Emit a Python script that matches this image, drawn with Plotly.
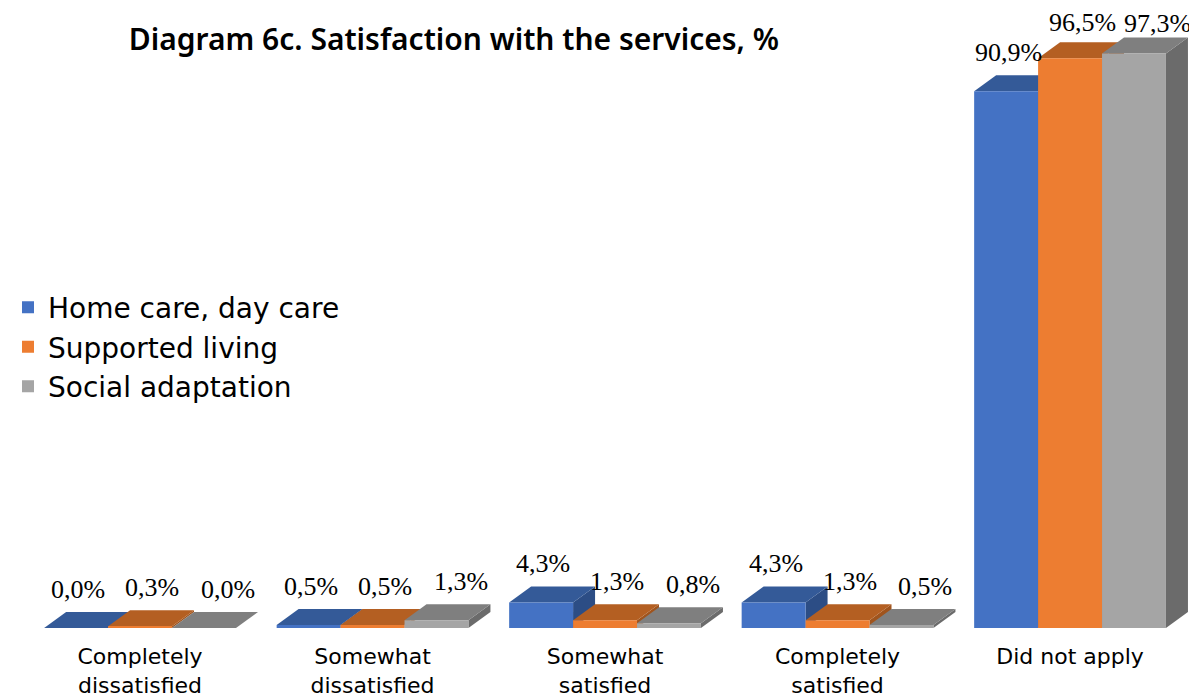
import plotly.graph_objects as go

# categories and series values (%)
categories = ["Completely<br>dissatisfied", "Somewhat<br>dissatisfied", "Somewhat<br>satisfied",
              "Completely<br>satisfied", "Did not apply"]
series_names = ["Home care, day care", "Supported living", "Social adaptation"]
home_care = [0.0, 0.5, 4.3, 4.3, 90.9]
supported_living = [0.3, 0.5, 1.3, 1.3, 96.5]
social_adaptation = [0.0, 1.3, 0.8, 0.5, 97.3]

# front / top / side face colours per series
front_colors = ["#4472C4", "#ED7D31", "#A5A5A5"]
top_colors = ["#345A98", "#B45F22", "#7F7F7F"]
side_colors = ["#2C4D85", "#A0541D", "#6B6B6B"]
label_xshift = [2, 12, 24]

bar_w = 0.275                # width of one bar in category units
depth_x = 22 / 232.5         # 3d depth offset, category units
depth_y = 16 / 5.905         # 3d depth offset, percent units
y_max = 105
plot_h = 620                 # plot area height in px (height - margins)

fig = go.Figure()
shapes = []
annotations = []

all_values = [home_care, supported_living, social_adaptation]
for i, (name, vals) in enumerate(zip(series_names, all_values)):
    off = (i - 1) * bar_w
    xs = [j + off for j in range(len(vals))]
    fig.add_trace(go.Bar(
        x=xs, y=vals, width=bar_w, name=name,
        marker=dict(color=front_colors[i], line=dict(width=0)),
        legendgroup=name, hoverinfo="skip",
    ))
    for x, v in zip(xs, vals):
        # keep the label inside the page for the tallest bars
        room = plot_h * (1 - v / y_max) - 15
        annotations.append(dict(
            x=x, y=v, xref="x", yref="y", text=f"{v:.1f}%".replace(".", ","),
            showarrow=False, xanchor="center", yanchor="middle",
            xshift=label_xshift[i], yshift=min(39, room),
            font=dict(family="Liberation Serif", size=26, color="black"),
        ))

# 3d faces: for each category draw series left to right (side then top)
for j in range(len(categories)):
    for i, vals in enumerate(all_values):
        v = vals[j]
        x0 = j + (i - 1) * bar_w - bar_w / 2
        x1 = x0 + bar_w
        shapes.append(dict(
            type="path", xref="x", yref="y", layer="below",
            path=f"M{x1},0 L{x1},{v} L{x1 + depth_x},{v + depth_y} L{x1 + depth_x},{depth_y} Z",
            fillcolor=side_colors[i], line=dict(width=0),
        ))
        shapes.append(dict(
            type="path", xref="x", yref="y", layer="below",
            path=f"M{x0},{v} L{x1},{v} L{x1 + depth_x},{v + depth_y} L{x0 + depth_x},{v + depth_y} Z",
            fillcolor=top_colors[i], line=dict(width=0),
        ))

fig.update_layout(
    width=1189, height=691,
    margin=dict(l=0, r=0, t=0, b=71),
    barmode="overlay",
    plot_bgcolor="white", paper_bgcolor="white",
    shapes=shapes, annotations=annotations,
    title=dict(
        text="Diagram 6c. Satisfaction with the services, %",
        x=0.375, y=0.9537, xanchor="center", yanchor="middle",
        font=dict(family="Noto Sans", size=30, color="black", weight=600),
    ),
    xaxis=dict(
        range=[-0.568, 4.546], tickmode="array", tickvals=list(range(len(categories))),
        ticktext=categories, showgrid=False, zeroline=False, showline=False,
        ticks="", ticklabelstandoff=13, automargin=False,
        tickfont=dict(family="DejaVu Sans", size=22, color="black"),
    ),
    yaxis=dict(range=[0, y_max], visible=False, automargin=False),
    legend=dict(
        x=0, y=0.453, xanchor="left", yanchor="middle",
        font=dict(family="DejaVu Sans", size=28, color="black"),
        tracegroupgap=0, bgcolor="rgba(0,0,0,0)",
    ),
)

fig.write_html("out.html")
